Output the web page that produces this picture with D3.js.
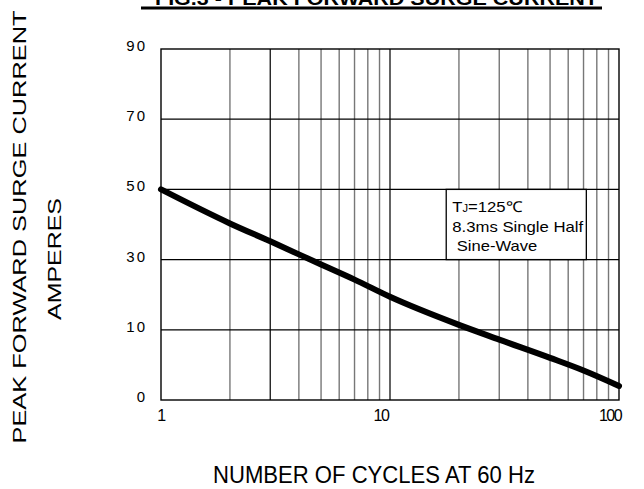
<!DOCTYPE html>
<html>
<head>
<meta charset="utf-8">
<script src="https://cdn.jsdelivr.net/npm/d3@7"></script>
<style>
body { margin: 0; background: #fff; }
svg { display: block; font-family: "Liberation Sans", Arial, sans-serif; }
</style>
</head>
<body>
<svg width="644" height="489"></svg>
<script>
// values
var cycles = [1, 2, 3, 5, 7, 10, 20, 30, 50, 70, 100];
var amps = [50, 40.3, 35.2, 28.6, 24.3, 19.4, 11.4, 8.6, 6.0, 4.2, 2.0];
var yTicks = [0, 10, 30, 50, 70, 90];
var xTicks = [1, 10, 100];
var xGrid = [1, 2, 3, 4, 5, 6, 7, 8, 9, 10, 20, 30, 40, 50, 60, 70, 80, 90, 100];
var noteLines = ["8.3ms Single Half", " Sine-Wave"];

var svg = d3.select("svg");
var plotL = 161, plotR = 619, plotT = 49, plotB = 400;

var x = d3.scaleLog().domain([1, 100]).range([plotL, plotR]);
// the axis labels are evenly spaced even though the steps differ
var y = d3.scaleLinear()
    .domain(yTicks)
    .range(yTicks.map(function (d, i) { return plotB - i * (plotB - plotT) / (yTicks.length - 1); }));

// vertical grid
svg.append("g").selectAll("line")
    .data(xGrid.slice(1, -1))
    .enter().append("line")
    .attr("x1", function (d) { return x(d); })
    .attr("x2", function (d) { return x(d); })
    .attr("y1", plotT).attr("y2", plotB)
    .attr("stroke", function (d) { return d == 10 || d == 3 ? "#222" : "#777"; })
    .attr("stroke-width", 1.4);

// horizontal grid
svg.append("g").selectAll("line")
    .data(yTicks.slice(1, -1))
    .enter().append("line")
    .attr("x1", plotL).attr("x2", plotR)
    .attr("y1", function (d) { return y(d); })
    .attr("y2", function (d) { return y(d); })
    .attr("stroke", "#000")
    .attr("stroke-width", 1.3);

svg.append("rect")
    .attr("x", plotL).attr("y", plotT)
    .attr("width", plotR - plotL).attr("height", plotB - plotT)
    .attr("fill", "none").attr("stroke", "#000").attr("stroke-width", 1.4);

// note box
var bx0 = x(17.6), bx1 = x(72);
svg.append("rect")
    .attr("x", bx0).attr("y", y(50))
    .attr("width", bx1 - bx0).attr("height", y(30) - y(50))
    .attr("fill", "#fff").attr("stroke", "#000").attr("stroke-width", 1.3);

var note = svg.append("g").attr("font-size", 15).attr("fill", "#000");
var t1 = note.append("text").attr("x", bx0 + 6).attr("y", y(50) + 23)
    .attr("textLength", 70).attr("lengthAdjust", "spacingAndGlyphs");
t1.append("tspan").text("T");
t1.append("tspan").attr("font-size", 10).text("J");
t1.append("tspan").text("=125℃");
note.selectAll("text.l")
    .data(noteLines)
    .enter().append("text")
    .attr("class", "l")
    .attr("x", bx0 + 6)
    .attr("y", function (d, i) { return y(50) + 43 + i * 19; })
    .attr("textLength", function (d, i) { return i ? 85 : 131; })
    .attr("lengthAdjust", "spacingAndGlyphs")
    .style("white-space", "pre")
    .text(function (d) { return d; });

// curve
var line = d3.line()
    .x(function (d) { return x(d[0]); })
    .y(function (d) { return y(d[1]); })
    .curve(d3.curveMonotoneX);

svg.append("path")
    .datum(d3.zip(cycles, amps))
    .attr("d", line)
    .attr("fill", "none")
    .attr("stroke", "#000")
    .attr("stroke-width", 6)
    .attr("stroke-linecap", "round");

// tick labels
svg.append("g").selectAll("text")
    .data(yTicks)
    .enter().append("text")
    .attr("x", 147)
    .attr("y", function (d) { return y(d) + 2; })
    .attr("text-anchor", "end")
    .attr("font-size", 15)
    .attr("letter-spacing", 2)
    .text(function (d) { return d; });

svg.append("g").selectAll("text")
    .data(xTicks)
    .enter().append("text")
    .attr("x", function (d, i) { return x(d) - (i ? 9 : 0); })
    .attr("y", 421)
    .attr("text-anchor", "middle")
    .attr("font-size", 16)
    .attr("letter-spacing", -1.5)
    .text(function (d) { return d; });

// titles
svg.append("text")
    .attr("x", 155).attr("y", 5)
    .attr("font-size", 19).attr("font-weight", "bold")
    .attr("textLength", 443).attr("lengthAdjust", "spacingAndGlyphs")
    .text("FIG.3 - PEAK FORWARD SURGE CURRENT");
svg.append("line")
    .attr("x1", 141).attr("x2", 602)
    .attr("y1", 8).attr("y2", 8)
    .attr("stroke", "#000").attr("stroke-width", 3);

svg.append("text")
    .attr("transform", "translate(26,227) rotate(-90)")
    .attr("text-anchor", "middle")
    .attr("font-size", 19)
    .attr("textLength", 433).attr("lengthAdjust", "spacingAndGlyphs")
    .text("PEAK FORWARD SURGE CURRENT");
svg.append("text")
    .attr("transform", "translate(61,259) rotate(-90)")
    .attr("text-anchor", "middle")
    .attr("font-size", 19)
    .attr("textLength", 122).attr("lengthAdjust", "spacingAndGlyphs")
    .text("AMPERES");

svg.append("text")
    .attr("x", 374).attr("y", 483)
    .attr("text-anchor", "middle")
    .attr("font-size", 24)
    .attr("textLength", 322).attr("lengthAdjust", "spacingAndGlyphs")
    .text("NUMBER OF CYCLES AT 60 Hz");
</script>
</body>
</html>
